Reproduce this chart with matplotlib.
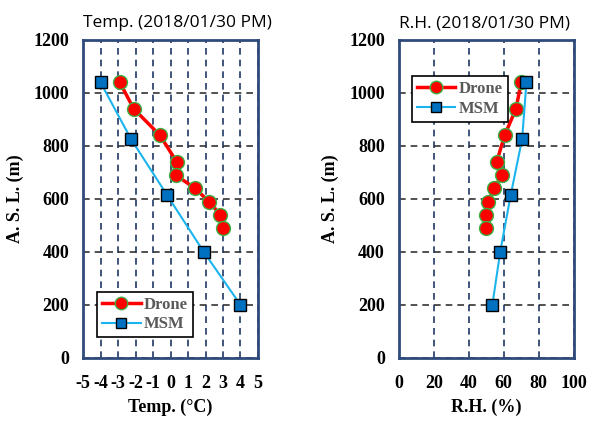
import numpy as np
from matplotlib import pyplot as plt

# drone profile (temperature / humidity vs height)
drone_h = [1040, 940, 840, 740, 690, 640, 590, 540, 490]
drone_t = [-2.9, -2.1, -0.6, 0.35, 0.3, 1.4, 2.2, 2.85, 3.0]
drone_rh = [70.0, 67.0, 60.5, 56.0, 59.0, 54.5, 51.0, 50.0, 50.0]

# MSM model profile
msm_h = [1040, 825, 615, 400, 200]
msm_t = [-4.0, -2.25, -0.2, 1.9, 4.0]
msm_rh = [73.0, 70.5, 64.0, 58.0, 53.5]

temp_ticks = list(range(-5, 6))
rh_ticks = [0, 20, 40, 60, 80, 100]
h_ticks = [0, 200, 400, 600, 800, 1000, 1200]

plt.rcParams['axes.unicode_minus'] = False
serif = 'Liberation Serif'
sans = 'Open Sans'
navy = '#2f4b7c'

fig = plt.figure(figsize=(5.89, 4.21), dpi=100)
ax1 = fig.add_axes([0.141, 0.150, 0.297, 0.755])
ax2 = fig.add_axes([0.677, 0.150, 0.297, 0.755])


def style(ax, xticks, xlabel, title):
    ax.set_ylim(0, 1200)
    ax.set_xlim(xticks[0], xticks[-1])
    ax.set_xticks(xticks)
    ax.set_yticks(h_ticks)
    ax.tick_params(length=0, labelsize=13)
    ax.tick_params(axis='y', pad=10)
    ax.tick_params(axis='x', pad=12)
    for lab in ax.get_xticklabels() + ax.get_yticklabels():
        lab.set_fontfamily(serif)
        lab.set_fontweight('bold')
    ax.xaxis.grid(True, linestyle=(0, (4, 3)), color='#1f3864', lw=1.2)
    ax.yaxis.grid(True, linestyle=(0, (4, 3)), color='#333333', lw=1.2)
    ax.set_axisbelow(True)
    for s in ax.spines.values():
        s.set_color(navy)
        s.set_linewidth(2)
    ax.set_xlabel(xlabel, fontfamily=serif, fontweight='bold', fontsize=13, labelpad=5)
    ax.set_ylabel('A. S. L. (m)', fontfamily=serif, fontweight='bold', fontsize=13, labelpad=7)
    ax.set_title(title, fontfamily=sans, fontsize=12.5, loc='left', pad=9)


def draw(ax, xd, xm):
    ax.plot(xd, drone_h, '-o', color='red', lw=2.5, ms=10,
            mfc='red', mec='#3cb043', mew=1, label='Drone', zorder=3)
    ax.plot(xm, msm_h, '-s', color='#1cb4ee', lw=1.5, ms=8,
            mfc='#0070c0', mec='black', mew=1, label='MSM', zorder=4)


draw(ax1, drone_t, msm_t)
draw(ax2, drone_rh, msm_rh)
style(ax1, temp_ticks, 'Temp. (\u00b0C)', 'Temp. (2018/01/30 PM)')
style(ax2, rh_ticks, 'R.H. (%)', 'R.H. (2018/01/30 PM)')

leg_kw = dict(frameon=True, fancybox=False, edgecolor='black', framealpha=1,
              prop={'family': serif, 'weight': 'bold', 'size': 12},
              handlelength=2.3, borderpad=0.3, labelspacing=0.2,
              handletextpad=0.2, markerscale=0.9)
l1 = ax1.legend(loc='lower left', bbox_to_anchor=(0.034, 0.038), **leg_kw)
l2 = ax2.legend(loc='upper left', bbox_to_anchor=(0.029, 0.912), **leg_kw)
for lg in (l1, l2):
    lg.get_frame().set_linewidth(1.2)
    for t in lg.get_texts():
        t.set_color('#595959')

fig.savefig('out.png', dpi=100)
